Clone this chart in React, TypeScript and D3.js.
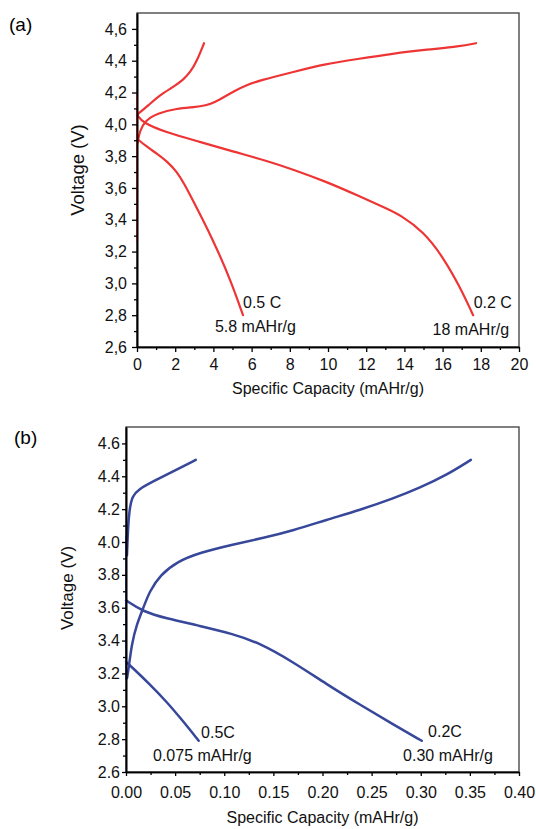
import React from 'react';
import * as d3 from 'd3';

type Pt = [number, number];
type G = d3.Selection<SVGGElement, unknown, null, undefined>;

const FONT = 'Liberation Sans, Arial, sans-serif';

// ---- panel (a) ----
const xTicksA = [0, 2, 4, 6, 8, 10, 12, 14, 16, 18, 20];
const xMinorA = [1, 3, 5, 7, 9, 11, 13, 15, 17, 19];
const yTicks = [2.6, 2.8, 3.0, 3.2, 3.4, 3.6, 3.8, 4.0, 4.2, 4.4, 4.6];
const yMinor = [2.7, 2.9, 3.1, 3.3, 3.5, 3.7, 3.9, 4.1, 4.3, 4.5];

const restA: Pt[] = [[0, 3.26], [0, 4.2]];
const charge05A: Pt[] = [
  [0, 4.06], [0.6, 4.12], [1.2, 4.185], [1.9, 4.235], [2.43, 4.28], [2.8, 4.33], [3.12, 4.394],
  [3.51, 4.51],
];
const charge02A: Pt[] = [
  [0.02, 3.88], [0.15, 3.96], [0.4, 4.02], [1.05, 4.07], [2.1, 4.10], [3.0, 4.108], [3.6, 4.118],
  [4.1, 4.14], [4.6, 4.175], [5.1, 4.21], [5.7, 4.245], [6.4, 4.275], [8.2, 4.33], [9.9, 4.38],
  [11.5, 4.41], [13.4, 4.445], [15.2, 4.47], [16.9, 4.49], [17.75, 4.51],
];
const discharge02A: Pt[] = [
  [0, 4.06], [0.3, 4.01], [1.5, 3.95], [3.3, 3.89], [5.0, 3.83], [6.8, 3.77], [8.2, 3.715],
  [9.9, 3.64], [11.7, 3.545], [13.0, 3.475], [13.8, 3.43], [15.0, 3.325], [16.0, 3.17],
  [16.9, 2.98], [17.6, 2.80],
];
const discharge05A: Pt[] = [
  [0, 3.91], [0.5, 3.86], [1.05, 3.815], [1.6, 3.765], [2.1, 3.7], [2.5, 3.62], [2.85, 3.54],
  [4.0, 3.27], [4.9, 3.02], [5.55, 2.80],
];
const labelsA = [
  { text: '0.5 C', x: 5.55, y: 2.845, anchor: 'start' },
  { text: '5.8 mAHr/g', x: 4.08, y: 2.694, anchor: 'start' },
  { text: '0.2 C', x: 19.63, y: 2.845, anchor: 'end' },
  { text: '18 mAHr/g', x: 19.48, y: 2.675, anchor: 'end' },
];

// ---- panel (b) ----
const xTicksB = [0, 0.05, 0.1, 0.15, 0.2, 0.25, 0.3, 0.35, 0.4];
const xMinorB = [0.025, 0.075, 0.125, 0.175, 0.225, 0.275, 0.325, 0.375];

const restB: Pt[] = [[0, 3.16], [0, 4.04]];
const charge05B: Pt[] = [
  [0.001, 3.92], [0.002, 4.08], [0.0035, 4.2], [0.0065, 4.28], [0.0125, 4.32], [0.028, 4.37],
  [0.048, 4.43], [0.071, 4.50],
];
const charge02B: Pt[] = [
  [0.001, 3.17], [0.0025, 3.22], [0.0058, 3.38], [0.011, 3.50], [0.0177, 3.60], [0.024, 3.70],
  [0.035, 3.80], [0.052, 3.88], [0.075, 3.935], [0.109, 3.985], [0.14, 4.025], [0.17, 4.07],
  [0.204, 4.135], [0.238, 4.195], [0.272, 4.265], [0.299, 4.33], [0.327, 4.41], [0.351, 4.50],
];
const discharge02B: Pt[] = [
  [0, 3.645], [0.0177, 3.575], [0.041, 3.535], [0.075, 3.49], [0.109, 3.44], [0.136, 3.385],
  [0.17, 3.27], [0.204, 3.135], [0.238, 3.01], [0.272, 2.89], [0.301, 2.79],
];
const discharge05B: Pt[] = [
  [0, 3.27], [0.0075, 3.23], [0.024, 3.135], [0.041, 3.03], [0.058, 2.91], [0.074, 2.79],
];
const labelsB = [
  { text: '0.5C', x: 0.0764, y: 2.807, anchor: 'start' },
  { text: '0.075 mAHr/g', x: 0.0275, y: 2.667, anchor: 'start' },
  { text: '0.2C', x: 0.3075, y: 2.813, anchor: 'start' },
  { text: '0.30 mAHr/g', x: 0.282, y: 2.667, anchor: 'start' },
];

interface PanelCfg {
  tag: string;
  tagPos: [number, number];
  box: { left: number; right: number; top: number; bottom: number };
  xDomain: [number, number];
  xTicks: number[];
  xMinor: number[];
  fmtX: (v: number) => string;
  fmtY: (v: number) => string;
  tickLen: number;
  xPad: number;
  yPad: number;
  yTitle: { x: number; y: number; size: number };
  xTitleY: number;
  color: string;
  lineWidth: number;
  curves: Pt[][];
  rest: Pt[];
  labels: { text: string; x: number; y: number; anchor: string }[];
}

const drawPanel = (g: G, c: PanelCfg) => {
  const { left, right, top, bottom } = c.box;
  const x = d3.scaleLinear().domain(c.xDomain).range([left, right]);
  const y = d3.scaleLinear().domain([2.6, 4.7]).range([bottom, top]);

  g.append('rect')
    .attr('x', left)
    .attr('y', top)
    .attr('width', right - left)
    .attr('height', bottom - top)
    .attr('fill', 'none')
    .attr('stroke', '#4a4a4a')
    .attr('stroke-width', 1.4)
  ;

  // basis smoothing evens out the hand-read points
  const line = d3.line<Pt>().x(d => x(d[0])).y(d => y(d[1])).curve(d3.curveBasis);
  const plot = g.append('g');
  plot.append('path')
    .attr('d', d3.line<Pt>().x(d => x(d[0])).y(d => y(d[1]))(c.rest))
    .attr('fill', 'none')
    .attr('stroke', c.color)
    .attr('stroke-width', c.lineWidth * 0.8)
  ;
  plot.selectAll('.curve')
    .data(c.curves)
    .join('path')
      .attr('class', 'curve')
      .attr('d', d => line(d))
      .attr('fill', 'none')
      .attr('stroke', c.color)
      .attr('stroke-width', c.lineWidth)
      .attr('stroke-linejoin', 'round')
      .attr('stroke-linecap', 'round')
  ;

  const styleAxis = (a: G) => {
    a.select('.domain').attr('stroke', '#000').attr('stroke-width', 1.6);
    a.selectAll('.tick line').attr('stroke', '#000').attr('stroke-width', 1.3);
    a.selectAll('text').attr('font-family', FONT).attr('font-size', 16).attr('fill', '#111');
  };

  // x axis
  g.append('g')
    .attr('transform', `translate(0,${bottom})`)
    .call(d3.axisBottom(x).tickValues(c.xMinor).tickSize(3).tickFormat(() => '').tickSizeOuter(0))
    .call(styleAxis)
  ;
  g.append('g')
    .attr('transform', `translate(0,${bottom})`)
    .call(d3.axisBottom(x).tickValues(c.xTicks).tickSize(c.tickLen).tickPadding(c.xPad)
      .tickFormat(d => c.fmtX(+d)).tickSizeOuter(0))
    .call(styleAxis)
  ;

  // y axis
  g.append('g')
    .attr('transform', `translate(${left},0)`)
    .call(d3.axisLeft(y).tickValues(yMinor).tickSize(3).tickFormat(() => '').tickSizeOuter(0))
    .call(styleAxis)
  ;
  g.append('g')
    .attr('transform', `translate(${left},0)`)
    .call(d3.axisLeft(y).tickValues(yTicks).tickSize(c.tickLen).tickPadding(c.yPad)
      .tickFormat(d => c.fmtY(+d)).tickSizeOuter(0))
    .call(styleAxis)
  ;

  g.append('text')
    .attr('x', (left + right) / 2)
    .attr('y', c.xTitleY)
    .attr('text-anchor', 'middle')
    .attr('font-family', FONT)
    .attr('font-size', 16)
    .attr('fill', '#111')
    .text('Specific Capacity (mAHr/g)')
  ;
  g.append('text')
    .attr('transform', `translate(${c.yTitle.x},${c.yTitle.y}) rotate(-90)`)
    .attr('text-anchor', 'middle')
    .attr('font-family', FONT)
    .attr('font-size', c.yTitle.size)
    .attr('fill', '#111')
    .text('Voltage (V)')
  ;
  g.append('text')
    .attr('x', c.tagPos[0])
    .attr('y', c.tagPos[1])
    .attr('font-family', FONT)
    .attr('font-size', 19)
    .attr('fill', '#000')
    .text(c.tag)
  ;

  g.selectAll('.note')
    .data(c.labels)
    .join('text')
      .attr('class', 'note')
      .attr('x', d => x(d.x))
      .attr('y', d => y(d.y))
      .attr('text-anchor', d => d.anchor)
      .attr('font-family', FONT)
      .attr('font-size', 16)
      .attr('fill', '#111')
      .text(d => d.text)
  ;
};

const App: React.FC = () => {
  const ref = React.useRef<SVGSVGElement>(null);

  React.useEffect(() => {
    if (!ref.current) return;
    const svg = d3.select(ref.current);
    svg.selectAll('*').remove();

    drawPanel(svg.append('g') as G, {
      tag: '(a)',
      tagPos: [9, 31],
      box: { left: 137, right: 519, top: 13, bottom: 347 },
      xDomain: [0, 20],
      xTicks: xTicksA,
      xMinor: xMinorA,
      fmtX: d3.format('d'),
      fmtY: v => d3.format('.1f')(v).replace('.', ','),
      tickLen: 5,
      xPad: 7,
      yPad: 5,
      yTitle: { x: 84, y: 170, size: 18.5 },
      xTitleY: 394,
      color: '#ee3535',
      lineWidth: 2.2,
      curves: [charge05A, charge02A, discharge02A, discharge05A],
      rest: restA,
      labels: labelsA,
    });

    drawPanel(svg.append('g') as G, {
      tag: '(b)',
      tagPos: [14, 444],
      box: { left: 126, right: 519, top: 427, bottom: 772 },
      xDomain: [0, 0.4],
      xTicks: xTicksB,
      xMinor: xMinorB,
      fmtX: d3.format('.2f'),
      fmtY: d3.format('.1f'),
      tickLen: 4,
      xPad: 11,
      yPad: 2,
      yTitle: { x: 73, y: 588, size: 17 },
      xTitleY: 823,
      color: '#37479a',
      lineWidth: 2.5,
      curves: [charge05B, charge02B, discharge02B, discharge05B],
      rest: restB,
      labels: labelsB,
    });
  }, []);

  return (
    <svg
      ref={ref}
      width={536}
      height={829}
      style={{ position: 'absolute', left: 0, top: 0, display: 'block', background: '#fff' }}
    />
  );
};

export default App;
